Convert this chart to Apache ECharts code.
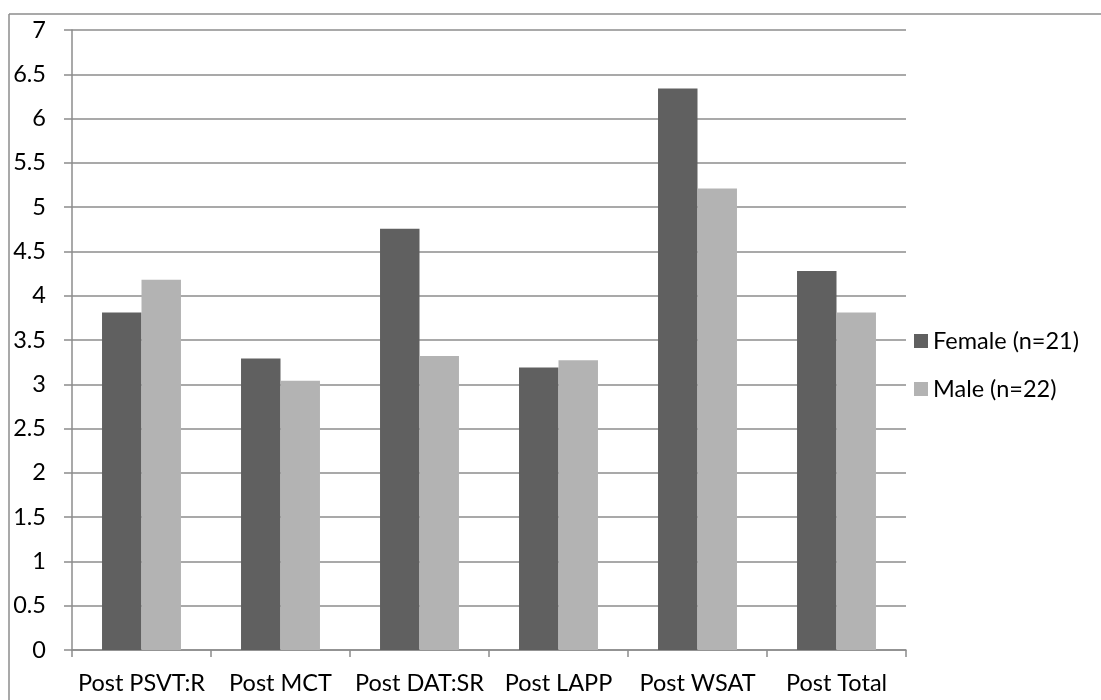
<!DOCTYPE html>
<html>
<head>
<meta charset="utf-8">
<script src="https://cdn.jsdelivr.net/npm/echarts@6/dist/echarts.min.js"></script>
<style>
html,body{margin:0;padding:0;background:#fff;}
#chart{width:1101px;height:700px;}
</style>
</head>
<body>
<div id="chart"></div>
<script>
var categories = ["Post PSVT:R", "Post MCT", "Post DAT:SR", "Post LAPP", "Post WSAT", "Post Total"];
var femaleValues = [3.81, 3.29, 4.755, 3.19, 6.34, 4.28];
var maleValues = [4.18, 3.04, 3.32, 3.27, 5.21, 3.81];
var seriesNames = ["Female (n=21)", "Male (n=22)"];
var yMin = 0, yMax = 7, yStep = 0.5;

var FONT = 'Lato, "Open Sans", sans-serif';
var chart = echarts.init(document.getElementById('chart'), null, {renderer: 'canvas'});
chart.setOption({
  animation: false,
  backgroundColor: '#ffffff',
  textStyle: {fontFamily: FONT},
  graphic: [
    {type: 'line', shape: {x1: 9, y1: 14, x2: 9, y2: 700}, style: {stroke: '#8c8c8c', lineWidth: 1.5}},
    {type: 'line', shape: {x1: 9, y1: 14, x2: 1101, y2: 14}, style: {stroke: '#8c8c8c', lineWidth: 1.5}}
  ],
  grid: {left: 72, right: 195, top: 30, bottom: 50, containLabel: false},
  legend: {
    orient: 'vertical',
    left: 909,
    top: 324,
    itemWidth: 14,
    itemHeight: 14,
    itemGap: 24,
    icon: 'rect',
    textStyle: {fontFamily: FONT, fontSize: 23.5, color: '#000', lineHeight: 24, padding: [0, 0, 0, 0]},
    data: seriesNames
  },
  xAxis: {
    type: 'category',
    data: categories,
    axisLine: {lineStyle: {color: '#8c8c8c', width: 1.5}},
    axisTick: {show: true, length: 7, alignWithLabel: false, lineStyle: {color: '#8c8c8c', width: 1.5}},
    axisLabel: {fontFamily: FONT, fontSize: 23.5, color: '#000', margin: 21, interval: 0}
  },
  yAxis: {
    type: 'value',
    min: yMin, max: yMax, interval: yStep,
    axisLine: {show: true, lineStyle: {color: '#8c8c8c', width: 1.5}},
    axisTick: {show: true, length: 8, lineStyle: {color: '#8c8c8c', width: 1.5}},
    splitLine: {show: true, lineStyle: {color: '#8c8c8c', width: 1.5}},
    axisLabel: {fontFamily: FONT, fontSize: 23.5, color: '#000', margin: 26}
  },
  series: [
    {name: seriesNames[0], type: 'bar', data: femaleValues, barWidth: '28.4%', barGap: '0%', barCategoryGap: '43%',
     itemStyle: {color: '#606060'}},
    {name: seriesNames[1], type: 'bar', data: maleValues, barWidth: '28.4%', barGap: '0%',
     itemStyle: {color: '#b3b3b3'}}
  ]
});
</script>
</body>
</html>
